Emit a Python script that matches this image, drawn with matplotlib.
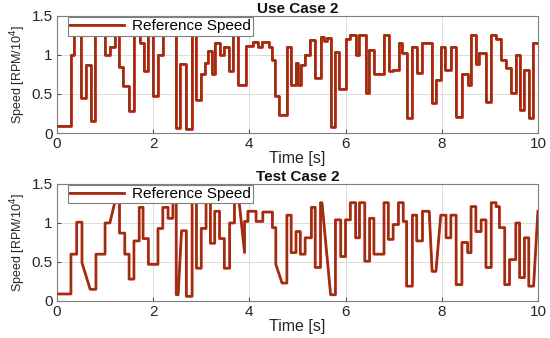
import matplotlib
matplotlib.use("Agg")
import matplotlib.pyplot as plt
from matplotlib.lines import Line2D

# ---------------- Data ----------------
# Use Case 2: step reference (step start times and held values)
use_t = [0.00, 0.29, 0.36, 0.50, 0.60, 0.70, 0.80, 1.00, 1.10, 1.20, 1.29, 1.38,
         1.50, 1.60, 1.72, 1.80, 1.90, 2.00, 2.10, 2.20, 2.47, 2.56, 2.69, 2.80,
         2.90, 3.00, 3.07, 3.14, 3.22, 3.29, 3.40, 3.47, 3.58, 3.67, 3.77, 3.93,
         4.07, 4.17, 4.27, 4.40, 4.47, 4.54, 4.61, 4.78, 4.87, 4.96, 5.01, 5.07,
         5.16, 5.27, 5.37, 5.48, 5.55, 5.62, 5.69, 5.78, 5.87, 6.00, 6.10, 6.21,
         6.28, 6.42, 6.49, 6.59, 6.80, 6.90, 6.99, 7.11, 7.18, 7.27, 7.39, 7.48,
         7.60, 7.79, 7.88, 7.98, 8.07, 8.19, 8.30, 8.42, 8.54, 8.61, 8.71, 8.78,
         8.92, 9.03, 9.13, 9.24, 9.34, 9.44, 9.55, 9.63, 9.72, 9.81, 9.90, 10.0]
use_v = [0.09, 1.00, 1.25, 0.45, 0.87, 0.15, 1.25, 1.00, 1.10, 1.25, 0.85, 0.60,
         0.28, 1.25, 1.15, 0.80, 1.25, 0.47, 1.00, 1.25, 0.06, 0.88, 0.05, 1.25,
         0.42, 0.75, 0.90, 1.05, 0.75, 1.15, 1.00, 1.10, 0.80, 1.25, 0.62, 1.12,
         1.17, 1.10, 1.17, 1.10, 0.94, 0.47, 0.23, 1.10, 0.62, 0.90, 0.62, 0.87,
         1.00, 1.19, 0.70, 1.23, 1.18, 1.22, 0.08, 1.04, 0.57, 1.20, 1.25, 1.00,
         1.25, 0.51, 1.06, 0.75, 1.25, 0.79, 0.81, 1.15, 1.02, 0.19, 1.10, 0.77,
         1.15, 0.38, 0.68, 1.10, 0.81, 1.10, 0.21, 0.75, 0.62, 1.25, 0.89, 1.02,
         0.40, 1.25, 1.21, 0.94, 0.83, 0.51, 1.00, 0.30, 0.81, 0.19, 1.15, 1.15]

# Test Case 2: reference as polyline corner points (contains ramps)
test_t = [0.00, 0.29, 0.29, 0.41, 0.41, 0.52, 0.52, 0.69, 0.81, 0.81, 1.00, 1.00,
          1.10, 1.20, 1.30, 1.30, 1.41, 1.41, 1.50, 1.50, 1.60, 1.60, 1.71, 1.71,
          1.79, 1.79, 1.90, 1.90, 2.10, 2.10, 2.20, 2.20, 2.31, 2.31, 2.41, 2.41,
          2.48, 2.48, 2.52, 2.59, 2.69, 2.69, 2.81, 2.81, 2.90, 2.90, 3.00, 3.00,
          3.10, 3.10, 3.19, 3.19, 3.28, 3.28, 3.38, 3.38, 3.48, 3.48, 3.59, 3.59,
          3.69, 3.69, 3.79, 3.90, 3.90, 3.97, 3.97, 4.14, 4.14, 4.28, 4.28, 4.48,
          4.48, 4.55, 4.55, 4.68, 4.78, 4.78, 4.87, 4.87, 4.97, 4.97, 5.06, 5.06,
          5.16, 5.16, 5.29, 5.29, 5.37, 5.37, 5.48, 5.48, 5.51, 5.69, 5.79, 5.79,
          5.90, 5.90, 6.00, 6.00, 6.10, 6.10, 6.21, 6.21, 6.29, 6.29, 6.40, 6.40,
          6.50, 6.50, 6.59, 6.59, 6.80, 6.80, 6.89, 6.89, 6.99, 6.99, 7.10, 7.10,
          7.20, 7.20, 7.27, 7.27, 7.39, 7.39, 7.48, 7.48, 7.60, 7.60, 7.74, 7.80,
          7.88, 7.98, 8.09, 8.09, 8.19, 8.19, 8.30, 8.30, 8.42, 8.42, 8.54, 8.54,
          8.61, 8.61, 8.71, 8.71, 8.82, 8.82, 8.92, 8.92, 9.03, 9.03, 9.13, 9.13,
          9.20, 9.20, 9.31, 9.31, 9.41, 9.41, 9.54, 9.54, 9.62, 9.62, 9.72, 9.72,
          9.81, 9.81, 9.91, 10.0]
test_v = [0.09, 0.09, 0.60, 0.60, 1.01, 1.01, 0.49, 0.15, 0.15, 0.60, 0.60, 1.00,
          1.00, 1.26, 1.26, 0.87, 0.87, 0.60, 0.60, 0.28, 0.28, 0.77, 0.77, 1.20,
          1.20, 0.80, 0.80, 0.47, 0.47, 0.93, 0.93, 1.20, 1.20, 1.06, 1.06, 1.26,
          1.26, 0.08, 0.08, 0.90, 0.90, 0.06, 0.06, 1.26, 1.26, 0.42, 0.42, 0.93,
          0.93, 1.26, 1.26, 0.74, 0.74, 1.15, 1.15, 0.80, 0.80, 0.42, 0.42, 1.00,
          1.00, 1.26, 1.26, 0.62, 1.02, 1.02, 1.15, 1.15, 1.02, 1.02, 1.14, 1.14,
          0.94, 0.94, 0.47, 0.23, 0.23, 1.10, 1.10, 0.62, 0.62, 0.89, 0.89, 0.60,
          0.60, 0.81, 0.81, 1.20, 1.20, 0.43, 0.43, 1.26, 1.26, 0.08, 0.08, 1.04,
          1.04, 0.57, 0.57, 1.04, 1.04, 1.26, 1.26, 0.81, 0.81, 1.26, 1.26, 0.51,
          0.51, 1.06, 1.06, 0.60, 0.60, 1.26, 1.26, 0.79, 0.79, 0.98, 0.98, 1.26,
          1.26, 1.02, 1.02, 0.19, 0.19, 1.10, 1.10, 0.77, 0.77, 1.15, 1.15, 0.38,
          0.38, 1.10, 1.10, 0.81, 0.81, 1.10, 1.10, 0.21, 0.21, 0.75, 0.75, 0.62,
          0.62, 1.21, 1.21, 0.89, 0.89, 1.04, 1.04, 0.43, 0.43, 1.26, 1.26, 1.21,
          1.21, 0.94, 0.94, 0.21, 0.21, 0.53, 0.53, 1.00, 1.00, 0.30, 0.30, 0.81,
          0.81, 0.19, 0.19, 1.15]

titles = ["Use Case 2", "Test Case 2"]
x_ticks = [0, 2, 4, 6, 8, 10]
y_ticks = [0, 0.5, 1, 1.5]
y_tick_labels = ["0", "0.5", "1", "1.5"]

# ---------------- Plot ----------------
plt.rcParams['font.family'] = ['Liberation Sans', 'DejaVu Sans']
fig = plt.figure(figsize=(5.5, 3.38), dpi=100)
ax1 = fig.add_axes([0.1036, 0.6065, 0.8744, 0.3462])
ax2 = fig.add_axes([0.1036, 0.1095, 0.8744, 0.3462])

RED = '#ee1010'
BROWN = '#7a3f12'
for ax, title, kind in [(ax1, titles[0], 'step'), (ax2, titles[1], 'line')]:
    if kind == 'step':
        ax.step(use_t, use_v, where='post', color=RED, lw=2.0, zorder=2)
        ax.step(use_t, use_v, where='post', color=BROWN, lw=1.2, zorder=3)
    else:
        ax.plot(test_t, test_v, color=RED, lw=2.0, zorder=2)
        ax.plot(test_t, test_v, color=BROWN, lw=1.2, zorder=3)
    ax.set_xlim(0, 10)
    ax.set_ylim(0, 1.5)
    ax.set_xticks(x_ticks)
    ax.set_yticks(y_ticks)
    ax.set_yticklabels(y_tick_labels)
    ax.grid(True, color='#dcdcdc', lw=0.7, zorder=0)
    ax.set_axisbelow(True)
    for s in ax.spines.values():
        s.set_color('#7f7f7f')
        s.set_linewidth(0.8)
    ax.tick_params(direction='in', length=3, color='#555555', labelsize=11,
                   labelcolor='#262626', pad=3)
    ax.set_title(title, fontsize=11, fontweight='bold', pad=2, color='#111111')
    ax.set_xlabel("Time [s]", fontsize=11.5, color='#262626', labelpad=0)
    ax.set_ylabel("Speed [RPM/10$^4$]", fontsize=9, color='#262626', labelpad=3)
    h = (Line2D([], [], color=RED, lw=2.0), Line2D([], [], color=BROWN, lw=1.2))
    leg = ax.legend([h], ["Reference Speed"], loc='upper left', fontsize=11,
                    bbox_to_anchor=(0.02, 1.005), frameon=True, fancybox=False,
                    framealpha=1, edgecolor='#7f7f7f', borderpad=0.15,
                    handlelength=3.5, handletextpad=0.5, borderaxespad=0.1)
    leg.get_frame().set_linewidth(0.8)
    leg.set_zorder(5)

fig.savefig("out.png", dpi=100)
